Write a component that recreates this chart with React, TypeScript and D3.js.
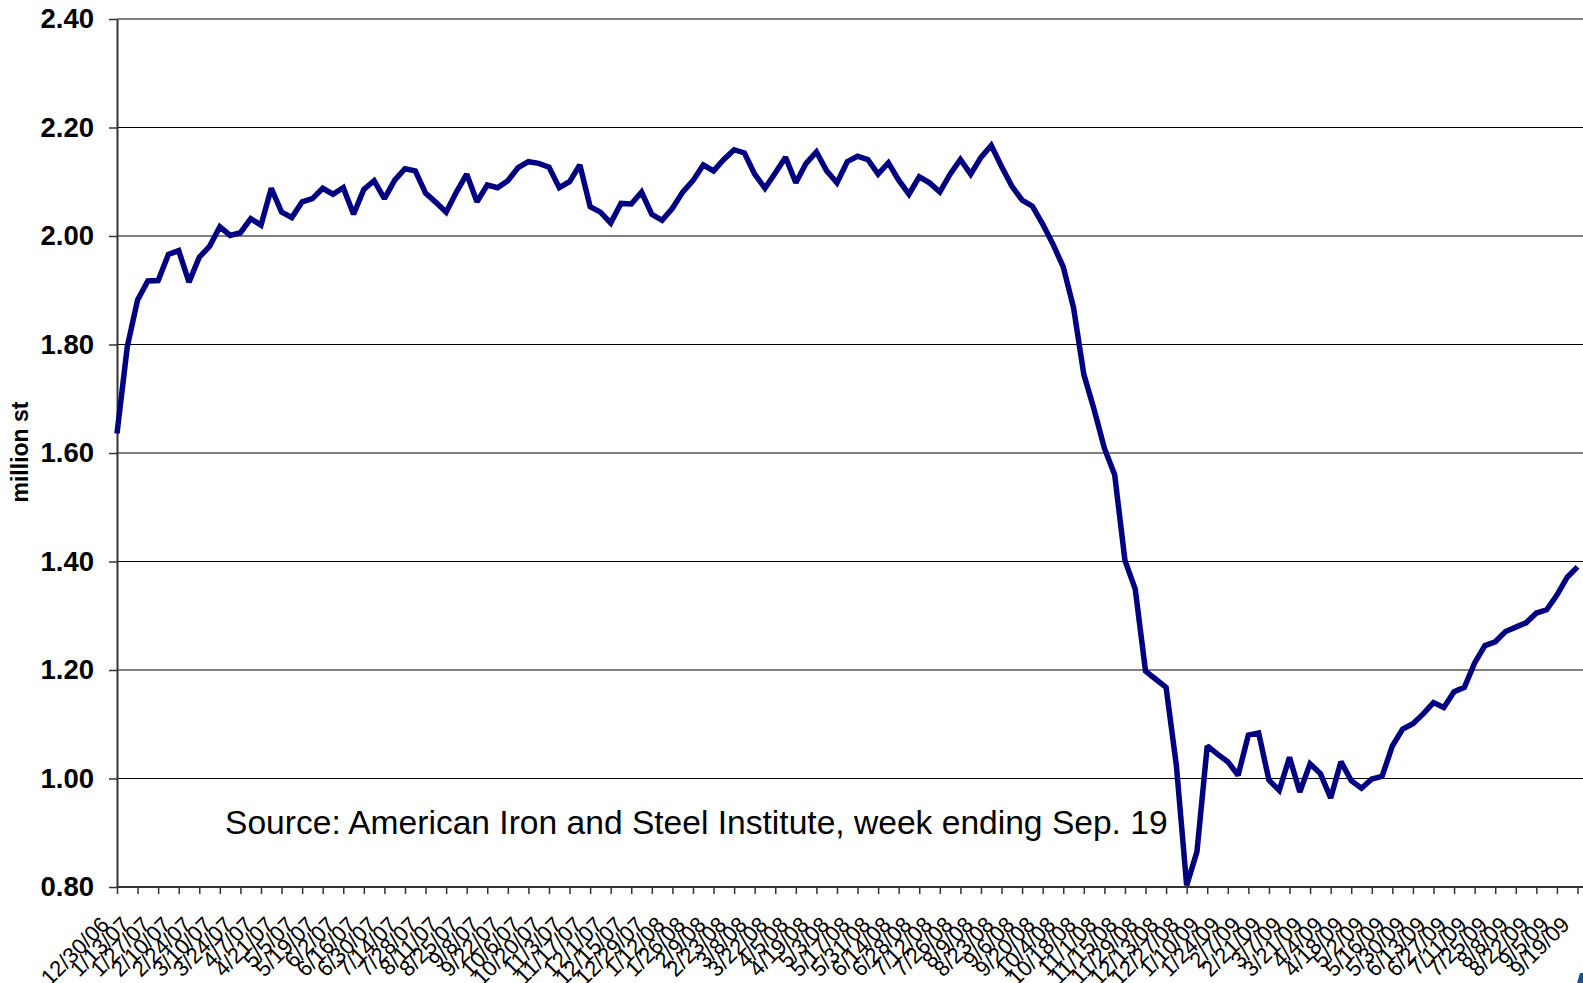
import React, { useEffect, useRef } from "react";
import * as d3 from "d3";

// weekly raw steel production, million short tons, 12/30/06 .. 9/19/09
const weeklyOutput = [
  1.636, 1.796, 1.882, 1.917, 1.918, 1.966, 1.973, 1.915, 1.961, 1.981,
  2.017, 2.001, 2.006, 2.032, 2.02, 2.088, 2.044, 2.034, 2.063, 2.069,
  2.088, 2.077, 2.089, 2.04, 2.086, 2.102, 2.069, 2.103, 2.124, 2.12,
  2.079, 2.062, 2.044, 2.081, 2.114, 2.063, 2.094, 2.089, 2.102, 2.126,
  2.137, 2.134, 2.127, 2.089, 2.1, 2.131, 2.054, 2.044, 2.024, 2.06,
  2.059, 2.081, 2.04, 2.029, 2.051, 2.081, 2.102, 2.131, 2.12, 2.141,
  2.159, 2.153, 2.114, 2.088, 2.116, 2.145, 2.098, 2.134, 2.155, 2.12,
  2.098, 2.137, 2.147, 2.141, 2.114, 2.135, 2.103, 2.077, 2.109, 2.098,
  2.081, 2.114, 2.141, 2.114, 2.145, 2.167, 2.128, 2.092, 2.066, 2.055,
  2.022, 1.985, 1.943, 1.868, 1.745, 1.68, 1.609, 1.56, 1.402, 1.349,
  1.198, 1.183, 1.168, 1.024, 0.803, 0.865, 1.06, 1.045, 1.031, 1.006,
  1.08, 1.084, 0.997, 0.978, 1.039, 0.975, 1.027, 1.009, 0.964, 1.031,
  0.996, 0.982, 0.999, 1.004, 1.06, 1.091, 1.101, 1.119, 1.14, 1.131,
  1.16, 1.168, 1.213, 1.245, 1.252, 1.271, 1.279, 1.287, 1.305, 1.311,
  1.338, 1.371, 1.39,
];

// one label every second week
const tickLabels = [
  "12/30/06", "1/13/07", "1/27/07", "2/10/07", "2/24/07", "3/10/07", "3/24/07", "4/7/07",
  "4/21/07", "5/5/07", "5/19/07", "6/2/07", "6/16/07", "6/30/07", "7/14/07", "7/28/07",
  "8/11/07", "8/25/07", "9/8/07", "9/22/07", "10/6/07", "10/20/07", "11/3/07", "11/17/07",
  "12/1/07", "12/15/07", "12/29/07", "1/12/08", "1/26/08", "2/9/08", "2/23/08", "3/8/08",
  "3/22/08", "4/5/08", "4/19/08", "5/3/08", "5/17/08", "5/31/08", "6/14/08", "6/28/08",
  "7/12/08", "7/26/08", "8/9/08", "8/23/08", "9/6/08", "9/20/08", "10/4/08", "10/18/08",
  "11/1/08", "11/15/08", "11/29/08", "12/13/08", "12/27/08", "1/10/09", "1/24/09", "2/7/09",
  "2/21/09", "3/7/09", "3/21/09", "4/4/09", "4/18/09", "5/2/09", "5/16/09", "5/30/09",
  "6/13/09", "6/27/09", "7/11/09", "7/25/09", "8/8/09", "8/22/09", "9/5/09", "9/19/09",
];

const yTicks = [0.8, 1.0, 1.2, 1.4, 1.6, 1.8, 2.0, 2.2, 2.4];

const FONT = "'Liberation Sans', Arial, sans-serif";

export default function App() {
  const ref = useRef<SVGSVGElement>(null);

  useEffect(() => {
    const W = 1583;
    const H = 983;
    const left = 117;
    const right = 1577.5;
    const top = 19;
    const bottom = 887;

    const svg = d3.select(ref.current);
    svg.selectAll("*").remove();

    const x = d3.scaleLinear().domain([0, weeklyOutput.length - 1]).range([left, right]);
    const y = d3.scaleLinear().domain([0.8, 2.4]).range([bottom, top]);

    // gridlines
    svg
      .append("g")
      .selectAll("line")
      .data(yTicks.slice(1))
      .join("line")
      .attr("x1", left)
      .attr("x2", W)
      .attr("y1", (d) => y(d))
      .attr("y2", (d) => y(d))
      .attr("stroke", "#000")
      .attr("stroke-width", 1.2);

    // Y axis
    const yAxis = svg
      .append("g")
      .attr("transform", `translate(${left},0)`)
      .call(
        d3
          .axisLeft(y)
          .tickValues(yTicks)
          .tickFormat(d3.format(".2f"))
          .tickSize(8)
          .tickSizeOuter(0)
          .tickPadding(15)
      );
    yAxis.select(".domain").attr("stroke", "#333").attr("stroke-width", 2);
    yAxis.selectAll(".tick line").attr("stroke", "#333").attr("stroke-width", 1.5);
    yAxis
      .selectAll(".tick text")
      .attr("fill", "#000")
      .style("font-family", FONT)
      .style("font-size", "27.5px")
      .style("font-weight", "bold");

    // X axis
    const xAxis = svg
      .append("g")
      .attr("transform", `translate(0,${bottom})`)
      .call(
        d3
          .axisBottom(x)
          .tickValues(tickLabels.map((_, i) => i * 2))
          .tickFormat((d) => tickLabels[(d as number) / 2])
          .tickSize(7)
          .tickSizeOuter(0)
      );
    xAxis
      .select(".domain")
      .attr("d", `M${left},0H${W}`)
      .attr("stroke", "#333")
      .attr("stroke-width", 2);
    xAxis.selectAll(".tick line").attr("stroke", "#333").attr("stroke-width", 1.5);
    xAxis
      .selectAll(".tick text")
      .attr("x", 0)
      .attr("y", 0)
      .attr("dy", 0)
      .attr("transform", "translate(-7,39) rotate(-45)")
      .attr("text-anchor", "end")
      .attr("fill", "#000")
      .style("font-family", FONT)
      .style("font-size", "22px");

    // Y axis title
    svg
      .append("text")
      .attr("transform", `translate(28,452) rotate(-90)`)
      .attr("text-anchor", "middle")
      .style("font-family", FONT)
      .style("font-size", "23px")
      .style("font-weight", "bold")
      .text("million st");

    // line
    const line = d3
      .line<number>()
      .x((_, i) => x(i))
      .y((d) => y(d));

    svg
      .append("path")
      .datum(weeklyOutput)
      .attr("d", line)
      .attr("fill", "none")
      .attr("stroke", "#000080")
      .attr("stroke-width", 5.5)
      .attr("stroke-linejoin", "miter")
      .attr("stroke-miterlimit", 2);

    // source note
    svg
      .append("text")
      .attr("x", 225)
      .attr("y", 834)
      .style("font-family", FONT)
      .style("font-size", "33.6px")
      .attr("fill", "#000")
      .text("Source: American Iron and Steel Institute, week ending Sep. 19");

    // clipped logo corner
    svg
      .append("path")
      .attr("d", `M1577,${H}L1580,973L${W},973L${W},${H}Z`)
      .attr("fill", "#1f4e8c");
  }, []);

  return (
    <svg
      ref={ref}
      width={1583}
      height={983}
      style={{ position: "absolute", left: 0, top: 0, display: "block", background: "#fff" }}
    />
  );
}
